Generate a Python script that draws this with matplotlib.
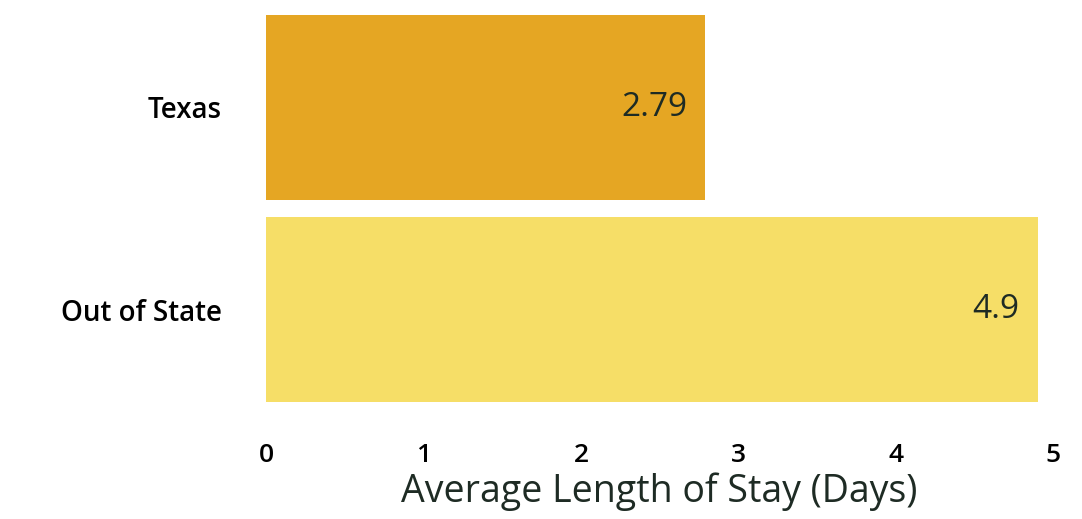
import matplotlib.pyplot as plt

# Average length of stay by visitor origin
categories = ["Texas", "Out of State"]
values = [2.79, 4.9]
value_labels = ["2.79", "4.9"]
colors = ["#E5A623", "#F6DE67"]

plt.rcParams['font.family'] = ['Open Sans', 'DejaVu Sans']
text_color = "#1E2B24"

fig = plt.figure(figsize=(10.82, 5.19), dpi=100)
ax = fig.add_axes([0.2458, 0.2081, 0.9735 - 0.2458, 0.9884 - 0.2081])

ypos = list(range(len(categories)))
ax.barh(ypos, values, height=0.913, color=colors)

for y, v, lab in zip(ypos, values, value_labels):
    ax.annotate(lab, xy=(v, y), xytext=(-18, 0), textcoords='offset pixels',
                ha='right', va='center', fontsize=24, color=text_color)

ax.set_xlim(0, 5)
ax.set_ylim(1.5, -0.5)
ax.set_yticks(ypos)
ax.set_yticklabels(categories, fontsize=20, color="black", fontweight='semibold')
ax.set_xticks(range(0, 6))
ax.set_xticklabels([str(t) for t in range(0, 6)], fontweight='semibold')
ax.tick_params(axis='x', labelsize=19, length=0, pad=23, labelcolor="black")
ax.tick_params(axis='y', length=0, pad=32)
ax.set_xlabel("Average Length of Stay (Days)", fontsize=27, color=text_color, labelpad=3)

for s in ax.spines.values():
    s.set_visible(False)

fig.savefig("out.png", dpi=100, facecolor="white")
